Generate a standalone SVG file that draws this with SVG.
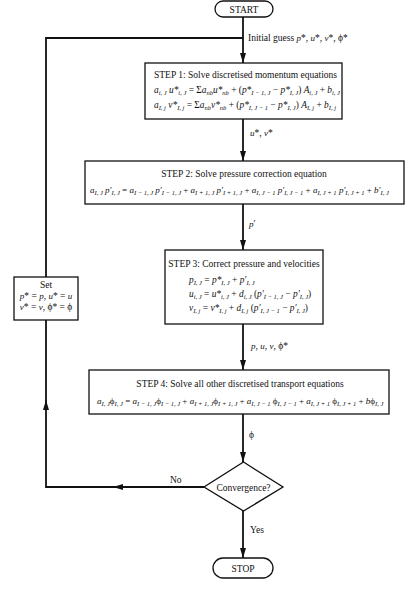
<svg xmlns="http://www.w3.org/2000/svg" width="419" height="589" viewBox="0 0 419 589" font-family="'Liberation Serif','Times New Roman',serif">
<style>
text{font-family:"Liberation Serif","Times New Roman",serif;fill:#111}
.t{font-size:9.5px}
.m{font-size:9px;font-style:italic}
.m2{font-size:9.4px;font-style:italic}
.u{font-style:normal}
.s{font-size:6.5px}
.box{fill:#fff;stroke:#111;stroke-width:1.3}
.c{fill:none;stroke:#111;stroke-width:1.8}
</style>
<defs>
<marker id="ah" markerUnits="userSpaceOnUse" markerWidth="12" markerHeight="8" refX="10" refY="3" orient="auto">
<path d="M0,0 L10,3 L0,6 Z" fill="#111"/>
</marker>
</defs>
<rect width="419" height="589" fill="#fff"/>
<g id="connectors">
<path class="c" d="M243,17 V63" marker-end="url(#ah)"/>
<path class="c" d="M243,119 V161" marker-end="url(#ah)"/>
<path class="c" d="M243,204 V250" marker-end="url(#ah)"/>
<path class="c" d="M243,324 V370" marker-end="url(#ah)"/>
<path class="c" d="M243,414 V462" marker-end="url(#ah)"/>
<path class="c" d="M243,511 V558" marker-end="url(#ah)"/>
<path class="c" d="M204,487 H113" marker-end="url(#ah)"/>
<path class="c" d="M114,487 H46 V400" marker-end="url(#ah)"/>
<path class="c" d="M46,401 V320"/>
<path class="c" d="M46,277 V38 H243"/>
<text class="t" x="248" y="41">Initial guess <tspan class="m">p</tspan>*, <tspan class="m">u</tspan>*, <tspan class="m">v</tspan>*, ϕ*</text>
<text class="t" x="250" y="136"><tspan class="m">u</tspan>*, <tspan class="m">v</tspan>*</text>
<text class="t" x="249" y="227"><tspan class="m">p</tspan>′</text>
<text class="t" x="251" y="349"><tspan class="m">p</tspan>, <tspan class="m">u</tspan>, <tspan class="m">v</tspan>, ϕ*</text>
<text class="t" x="249" y="438">ϕ</text>
<text class="t" x="170" y="483">No</text>
<text class="t" x="250" y="533">Yes</text>
</g>
<g id="start">
<rect class="box" x="215" y="1" width="58" height="16" rx="8"/>
<text class="t" x="244" y="13" text-anchor="middle">START</text>
</g>
<g id="step1">
<rect class="box" x="145" y="63" width="197" height="56"/>
<text class="t" x="154" y="78">STEP 1: Solve discretised momentum equations</text>
<text class="m2" x="154" y="93">a<tspan class="s" dy="2">i, J</tspan><tspan dy="-2"> u</tspan>*<tspan class="s" dy="2">i, J</tspan><tspan class="u" dy="-2"> = Σ</tspan>a<tspan class="s" dy="2">nb</tspan><tspan dy="-2">u</tspan>*<tspan class="s" dy="2">nb</tspan><tspan class="u" dy="-2"> + (</tspan>p*<tspan class="s" dy="2">I − 1, J</tspan><tspan class="u" dy="-2"> − </tspan>p*<tspan class="s" dy="2">I, J</tspan><tspan class="u" dy="-2">) </tspan>A<tspan class="s" dy="2">i, J</tspan><tspan class="u" dy="-2"> + </tspan>b<tspan class="s" dy="2">i, J</tspan></text>
<text class="m2" x="154" y="108">a<tspan class="s" dy="2">I, j</tspan><tspan dy="-2"> v</tspan>*<tspan class="s" dy="2">I, j</tspan><tspan class="u" dy="-2"> = Σ</tspan>a<tspan class="s" dy="2">nb</tspan><tspan dy="-2">v</tspan>*<tspan class="s" dy="2">nb</tspan><tspan class="u" dy="-2"> + (</tspan>p*<tspan class="s" dy="2">I, J − 1</tspan><tspan class="u" dy="-2"> − </tspan>p*<tspan class="s" dy="2">I, J</tspan><tspan class="u" dy="-2">) </tspan>A<tspan class="s" dy="2">I, j</tspan><tspan class="u" dy="-2"> + </tspan>b<tspan class="s" dy="2">I, j</tspan></text>
</g>
<g id="step2">
<rect class="box" x="85" y="161" width="319" height="43"/>
<text class="t" x="244" y="177" text-anchor="middle">STEP 2: Solve pressure correction equation</text>
<text class="m" x="90" y="193">a<tspan class="s" dy="2">I, J</tspan><tspan dy="-2"> p′</tspan><tspan class="s" dy="2">I, J</tspan><tspan class="u" dy="-2"> = </tspan>a<tspan class="s" dy="2">I − 1, J</tspan><tspan dy="-2"> p′</tspan><tspan class="s" dy="2">I − 1, J</tspan><tspan class="u" dy="-2"> + </tspan>a<tspan class="s" dy="2">I + 1, J</tspan><tspan dy="-2"> p′</tspan><tspan class="s" dy="2">I + 1, J</tspan><tspan class="u" dy="-2"> + </tspan>a<tspan class="s" dy="2">I, J − 1</tspan><tspan dy="-2"> p′</tspan><tspan class="s" dy="2">I, J − 1</tspan><tspan class="u" dy="-2"> + </tspan>a<tspan class="s" dy="2">I, J + 1</tspan><tspan dy="-2"> p′</tspan><tspan class="s" dy="2">I, J + 1</tspan><tspan class="u" dy="-2"> + </tspan>b′<tspan class="s" dy="2">I, J</tspan></text>
</g>
<g id="step3">
<rect class="box" x="165" y="250" width="158" height="74"/>
<text class="t" x="244" y="267" text-anchor="middle">STEP 3: Correct pressure and velocities</text>
<text class="m2" x="189" y="283">p<tspan class="s" dy="2">I, J</tspan><tspan class="u" dy="-2"> = </tspan>p*<tspan class="s" dy="2">I, J</tspan><tspan class="u" dy="-2"> + </tspan>p′<tspan class="s" dy="2">I, J</tspan></text>
<text class="m2" x="189" y="297">u<tspan class="s" dy="2">i, J</tspan><tspan class="u" dy="-2"> = </tspan>u*<tspan class="s" dy="2">i, J</tspan><tspan class="u" dy="-2"> + </tspan>d<tspan class="s" dy="2">i, J</tspan><tspan class="u" dy="-2"> (</tspan>p′<tspan class="s" dy="2">I − 1, J</tspan><tspan class="u" dy="-2"> − </tspan>p′<tspan class="s" dy="2">I, J</tspan><tspan class="u" dy="-2">)</tspan></text>
<text class="m2" x="189" y="311">v<tspan class="s" dy="2">I, j</tspan><tspan class="u" dy="-2"> = </tspan>v*<tspan class="s" dy="2">I, j</tspan><tspan class="u" dy="-2"> + </tspan>d<tspan class="s" dy="2">I, j</tspan><tspan class="u" dy="-2"> (</tspan>p′<tspan class="s" dy="2">I, J − 1</tspan><tspan class="u" dy="-2"> − </tspan>p′<tspan class="s" dy="2">I, J</tspan><tspan class="u" dy="-2">)</tspan></text>
</g>
<g id="set">
<rect class="box" x="14" y="277" width="64" height="43"/>
<text class="t" x="46" y="288" text-anchor="middle">Set</text>
<text class="t" x="46" y="299" text-anchor="middle"><tspan class="m">p</tspan>* = <tspan class="m">p</tspan>, <tspan class="m">u</tspan>* = <tspan class="m">u</tspan></text>
<text class="t" x="46" y="310" text-anchor="middle"><tspan class="m">v</tspan>* = <tspan class="m">v</tspan>, ϕ* = ϕ</text>
</g>
<g id="step4">
<rect class="box" x="89" y="370" width="300" height="44"/>
<text class="t" x="240" y="387" text-anchor="middle">STEP 4: Solve all other discretised transport equations</text>
<text class="m" x="97" y="404">a<tspan class="s" dy="2">I, J</tspan><tspan class="u" dy="-2">ϕ</tspan><tspan class="s" dy="2">I, J</tspan><tspan class="u" dy="-2"> = </tspan>a<tspan class="s" dy="2">I − 1, J</tspan><tspan class="u" dy="-2">ϕ</tspan><tspan class="s" dy="2">I − 1, J</tspan><tspan class="u" dy="-2"> + </tspan>a<tspan class="s" dy="2">I + 1, J</tspan><tspan class="u" dy="-2">ϕ</tspan><tspan class="s" dy="2">I + 1, J</tspan><tspan class="u" dy="-2"> + </tspan>a<tspan class="s" dy="2">I, J − 1</tspan><tspan class="u" dy="-2"> ϕ</tspan><tspan class="s" dy="2">I, J − 1</tspan><tspan class="u" dy="-2"> + </tspan>a<tspan class="s" dy="2">I, J + 1</tspan><tspan class="u" dy="-2"> ϕ</tspan><tspan class="s" dy="2">I, J + 1</tspan><tspan class="u" dy="-2"> + </tspan>b<tspan class="u">ϕ</tspan><tspan class="s" dy="2">I, J</tspan></text>
</g>
<g id="convergence">
<polygon class="box" points="243.5,462 283,487 243.5,511 204,487"/>
<text class="t" x="243.5" y="490.5" text-anchor="middle">Convergence?</text>
</g>
<g id="stop">
<rect class="box" x="213" y="558" width="60" height="20" rx="10"/>
<text class="t" x="243" y="571.5" text-anchor="middle">STOP</text>
</g>
</svg>
